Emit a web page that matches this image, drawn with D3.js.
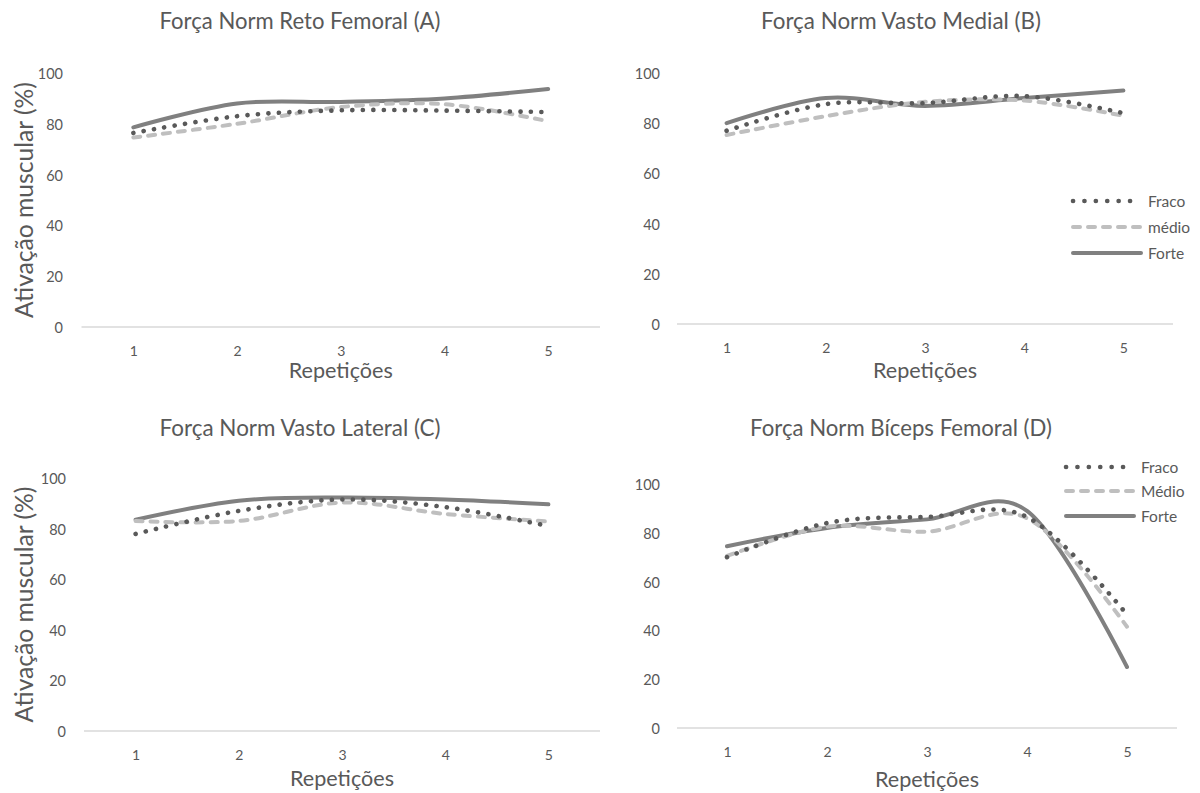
<!DOCTYPE html>
<html><head><meta charset="utf-8">
<script src="https://cdn.jsdelivr.net/npm/d3@7"></script>
<style>
html,body{margin:0;padding:0;background:#fff;}
svg{display:block;}
text{font-family:Lato,"Open Sans",sans-serif;fill:#595959;}
</style></head>
<body>
<svg id="chart" width="1200" height="793"></svg>
<script>
// ---- data ----
const categories = [1, 2, 3, 4, 5];
const yTicks = [0, 20, 40, 60, 80, 100];
const seriesNames = ["Fraco", "médio", "Forte"];
const seriesNamesD = ["Fraco", "Médio", "Forte"];

const titles = ["Força Norm Reto Femoral (A)", "Força Norm Vasto Medial (B)",
                "Força Norm Vasto Lateral (C)", "Força Norm Bíceps Femoral (D)"];
const xTitle = "Repetições";
const yTitle = "Ativação muscular (%)";

const retoFraco = [76.4, 83, 85.3, 85.2, 84.6];
const retoMedio = [74.6, 80, 86.6, 87.7, 81];
const retoForte = [78.6, 88, 88.6, 90, 93.7];

const medialFraco = [77, 87.6, 88, 90.8, 84];
const medialMedio = [75.3, 82.8, 88.5, 89, 83];
const medialForte = [80, 90, 86.9, 90, 93];

const lateralFraco = [77.9, 87, 91.5, 88.5, 81];
const lateralMedio = [83, 83, 90.3, 85.8, 82.8];
const lateralForte = [83.5, 91, 92.3, 91.5, 89.6];

const bicepsFraco = [70, 84, 86.5, 86.5, 46.5];
const bicepsMedio = [70.5, 82.5, 80.5, 86, 41.5];
const bicepsForte = [74.5, 82, 85.5, 89, 25];

// ---- layout ----
const panels = [
  {title: titles[0], data: [retoFraco, retoMedio, retoForte], x: [81.5, 600], y: [327, 73], yLabX: 63, titleY: 20, xTitleY: 370, yTitle: true, legend: null},
  {title: titles[1], data: [medialFraco, medialMedio, medialForte], x: [677, 1173], y: [324, 73], yLabX: 660, titleY: 20, xTitleY: 370, yTitle: false,
   legend: {names: seriesNames, x: 1073, ys: [201, 227, 253]}},
  {title: titles[2], data: [lateralFraco, lateralMedio, lateralForte], x: [84, 600], y: [731, 478], yLabX: 66, titleY: 427, xTitleY: 778, yTitle: true, legend: null},
  {title: titles[3], data: [bicepsFraco, bicepsMedio, bicepsForte], x: [677, 1177], y: [728, 484], yLabX: 660, titleY: 427, xTitleY: 779, yTitle: false,
   legend: {names: seriesNamesD, x: 1066, ys: [467, 491, 516]}}
];

const styles = [
  {stroke: "#595959", width: 4.6, dash: "0.1,10.4", cap: "round"},
  {stroke: "#bfbfbf", width: 4, dash: "7,8", cap: "round"},
  {stroke: "#808080", width: 4, dash: null, cap: "round"}
];

const svg = d3.select("#chart");

function fit(sel, target) {
  const n = sel.node();
  const fs = parseFloat(sel.attr("font-size"));
  const w = n.getComputedTextLength();
  sel.attr("font-size", (fs * target / w).toFixed(2));
}

panels.forEach((p, pi) => {
  const g = svg.append("g");
  const x = d3.scalePoint().domain(categories).range(p.x).padding(0.5);
  const y = d3.scaleLinear().domain([0, 100]).range(p.y);

  // title
  const tcx = pi % 2 === 0 ? 300 : 901;
  const t = g.append("text").attr("x", tcx).attr("y", p.titleY).attr("text-anchor", "middle")
    .attr("dominant-baseline", "central").attr("font-size", 18).text(p.title);
  fit(t, pi === 3 ? 302 : (pi === 1 ? 280 : 281));

  // x axis (baseline)
  const xAxis = d3.axisBottom(x).tickSize(0).tickPadding(0);
  const xa = g.append("g").attr("transform", `translate(0,${y(0)})`).call(xAxis);
  xa.select(".domain").remove();
  g.append("line").attr("x1", p.x[0]).attr("x2", p.x[1]).attr("y1", y(0)).attr("y2", y(0))
    .attr("stroke", "#d9d9d9").attr("stroke-width", 1.5);
  xa.selectAll("text").attr("y", 0).attr("dy", null).attr("dominant-baseline", "central")
    .attr("transform", "translate(0,23.5)")
    .attr("font-size", 14).attr("font-family", "Lato").attr("fill", "#595959");

  // y axis labels
  const yAxis = d3.axisLeft(y).tickValues(yTicks).tickSize(0).tickPadding(0);
  const ya = g.append("g").attr("transform", `translate(${p.yLabX},0)`).call(yAxis);
  ya.select(".domain").remove();
  ya.selectAll("text").attr("x", 0).attr("dy", null).attr("dominant-baseline", "central")
    .attr("font-size", 14.5).attr("font-family", "Lato").attr("fill", "#595959");

  // x title
  const xt = g.append("text").attr("x", (p.x[0] + p.x[1]) / 2)
    .attr("y", p.xTitleY).attr("text-anchor", "middle").attr("dominant-baseline", "central")
    .attr("font-size", 20).text(xTitle);
  fit(xt, 104);

  if (p.yTitle) {
    const cy = (p.y[0] + p.y[1]) / 2;
    const yt = g.append("text").attr("transform", `translate(23,${cy}) rotate(-90)`)
      .attr("text-anchor", "middle").attr("dominant-baseline", "central")
      .attr("font-size", 21).text(yTitle);
    fit(yt, 236);
  }

  // lines
  const line = d3.line().x((d, i) => x(categories[i])).y(d => y(d)).curve(d3.curveCardinal.tension(0));
  [2, 1, 0].forEach(si => {
    const s = styles[si];
    const path = g.append("path").datum(p.data[si]).attr("d", line)
      .attr("fill", "none").attr("stroke", s.stroke).attr("stroke-width", s.width)
      .attr("stroke-linecap", s.cap).attr("stroke-linejoin", "round");
    if (s.dash) path.attr("stroke-dasharray", s.dash);
  });

  // legend
  if (p.legend) {
    p.legend.names.forEach((nm, i) => {
      const s = styles[i];
      const ly = p.legend.ys[i];
      const l = g.append("line").attr("x1", p.legend.x).attr("x2", p.legend.x + 68)
        .attr("y1", ly).attr("y2", ly).attr("stroke", s.stroke).attr("stroke-width", s.width)
        .attr("stroke-linecap", s.cap);
      if (s.dash) l.attr("stroke-dasharray", i === 0 ? "0.1,11.3" : "7,8");
      g.append("text").attr("x", p.legend.x + 75).attr("y", ly).attr("dominant-baseline", "central")
        .attr("font-size", 15.5).text(nm);
    });
  }
});
</script>
</body></html>
